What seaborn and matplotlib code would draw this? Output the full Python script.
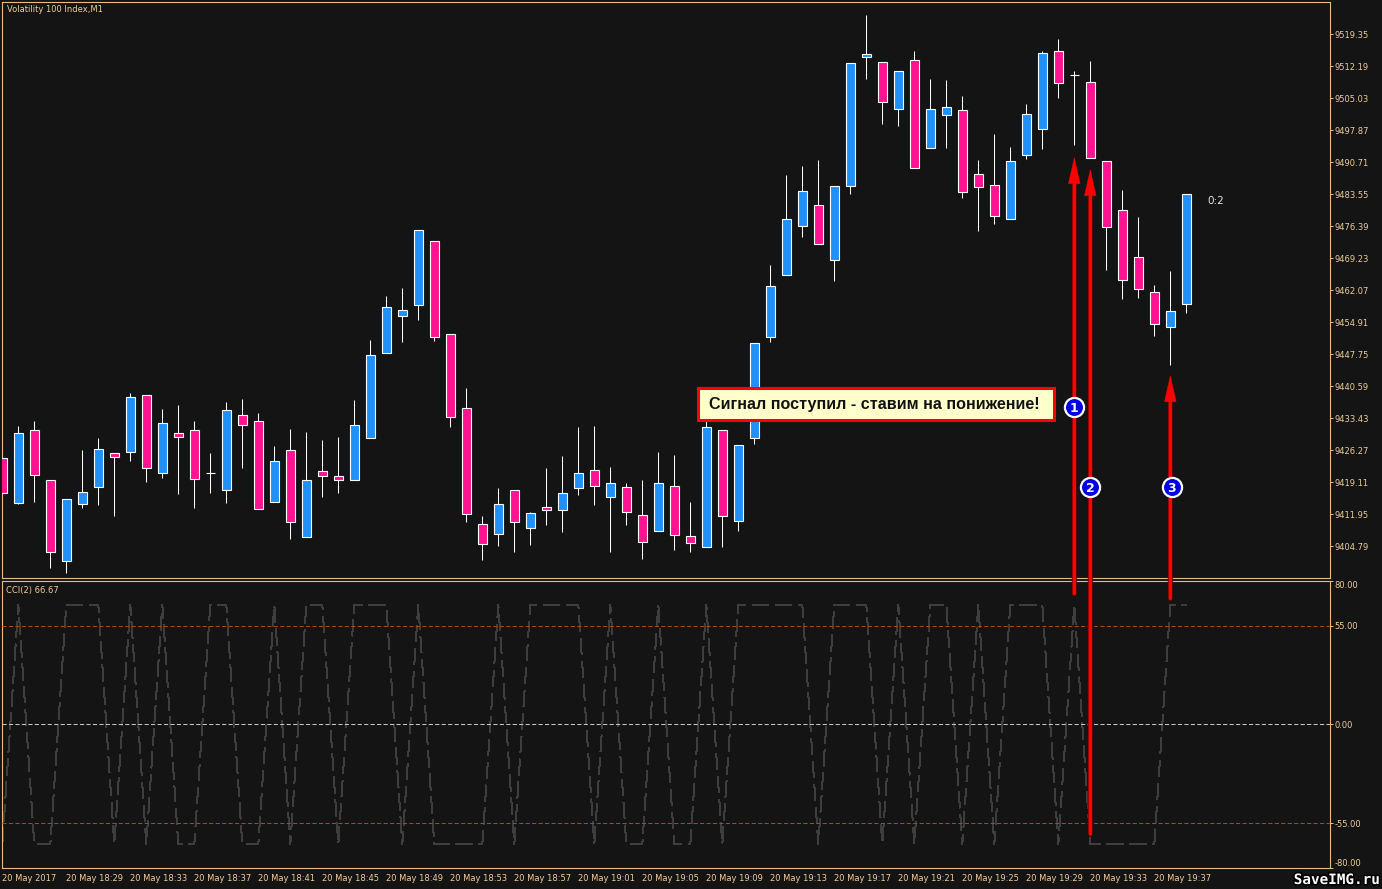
import matplotlib
matplotlib.use("Agg")
import matplotlib.pyplot as plt
import matplotlib.patheffects as pe
from matplotlib.patches import Rectangle
import numpy as np
import pandas as pd
import seaborn as sns

# ---------- data ----------
opens = [9424.42, 9414.48, 9430.68, 9419.49, 9401.50, 9414.26, 9418.06, 9425.53, 9425.89, 9438.51,
         9421.19, 9430.01, 9430.68, 9421.06, 9417.39, 9434.04, 9432.69, 9414.70, 9426.20, 9406.87,
         9421.51, 9420.39, 9419.63, 9429.03, 9448.04, 9456.32, 9458.78, 9472.97, 9452.16, 9435.60,
         9409.65, 9407.54, 9417.26, 9408.89, 9413.45, 9412.91, 9417.84, 9421.73, 9415.82, 9417.93,
         9411.66, 9408.22, 9418.15, 9406.97, 9404.64, 9430.68, 9410.45, 9429.03, 9451.62, 9465.50,
         9476.46, 9481.02, 9468.85, 9485.41, 9514.27, 9513.02, 9502.64, 9513.47, 9493.91, 9501.30,
         9502.28, 9487.96, 9485.50, 9478.03, 9492.35, 9498.16, 9515.48, 9510.18, 9508.55, 9490.87,
         9479.91, 9469.39, 9461.56, 9453.86, 9459.01]
closes = [9416.72, 9430.01, 9420.75, 9403.52, 9415.24, 9416.81, 9426.43, 9424.77, 9438.06, 9422.31,
          9432.25, 9429.25, 9419.85, 9421.06, 9435.15, 9431.93, 9413.14, 9423.74, 9410.23, 9419.49,
          9420.52, 9419.63, 9431.80, 9447.46, 9458.20, 9457.53, 9475.43, 9451.62, 9433.72, 9412.02,
          9405.31, 9414.12, 9410.23, 9412.11, 9412.91, 9416.58, 9421.06, 9418.28, 9418.82, 9412.47,
          9405.75, 9418.82, 9407.32, 9405.53, 9431.35, 9411.57, 9427.32, 9450.15, 9462.90, 9477.89,
          9484.16, 9472.43, 9485.28, 9512.80, 9514.81, 9504.20, 9511.01, 9489.44, 9502.50, 9502.95,
          9484.07, 9485.19, 9478.70, 9490.87, 9501.39, 9515.03, 9508.46, 9510.18, 9491.67, 9476.24,
          9464.38, 9462.36, 9454.53, 9457.31, 9483.49]
highs = [9424.42, 9431.64, 9432.76, 9419.49, 9415.24, 9426.27, 9428.96, 9425.53, 9439.03, 9438.51,
         9435.45, 9436.34, 9432.76, 9425.60, 9437.01, 9437.68, 9434.55, 9427.17, 9430.97, 9430.30,
         9428.51, 9429.18, 9437.46, 9450.88, 9460.73, 9462.52, 9475.43, 9472.97, 9452.16, 9440.14,
         9411.50, 9417.77, 9417.26, 9412.40, 9422.24, 9424.93, 9431.42, 9431.64, 9422.47, 9418.89,
         9419.56, 9425.82, 9425.15, 9414.64, 9432.76, 9430.68, 9427.32, 9450.15, 9467.67, 9487.80,
         9489.82, 9491.16, 9485.28, 9512.80, 9523.60, 9513.02, 9511.01, 9515.55, 9509.28, 9509.06,
         9505.48, 9491.16, 9496.98, 9494.07, 9503.69, 9515.55, 9518.23, 9511.07, 9513.31, 9490.87,
         9484.45, 9478.41, 9463.19, 9466.32, 9483.49]
lows = [9416.72, 9414.19, 9414.70, 9399.94, 9398.82, 9413.36, 9414.03, 9411.57, 9423.88, 9419.18,
        9420.07, 9416.49, 9413.36, 9416.72, 9414.48, 9422.31, 9413.14, 9414.70, 9406.43, 9406.87,
        9415.82, 9416.72, 9419.63, 9429.03, 9448.04, 9450.50, 9455.43, 9450.73, 9431.49, 9410.23,
        9401.73, 9404.86, 9403.52, 9405.08, 9409.56, 9407.99, 9416.27, 9414.03, 9403.52, 9409.56,
        9401.95, 9408.22, 9403.97, 9403.52, 9404.64, 9404.64, 9408.22, 9427.68, 9450.50, 9465.50,
        9474.00, 9472.43, 9464.15, 9483.62, 9509.35, 9499.28, 9498.83, 9489.44, 9493.91, 9493.91,
        9482.72, 9475.34, 9476.91, 9478.03, 9491.45, 9493.69, 9505.10, 9494.58, 9491.67, 9466.62,
        9460.13, 9460.35, 9451.85, 9445.36, 9456.99]
cci = [-66.67, 66.67, -66.67, -66.67, 66.67, 66.67, 66.67, -66.67, 66.67, -66.67,
       66.67, -66.67, -66.67, 66.67, 66.67, -66.67, -66.67, 66.67, -66.67, 66.67,
       66.67, -66.67, 66.67, 66.67, 66.67, -66.67, 66.67, -66.67, -66.67, -66.67,
       -66.67, 66.67, -66.67, 66.67, 66.67, 66.67, 66.67, -66.67, 66.67, -66.67,
       -66.67, 66.67, -66.67, -66.67, 66.67, -66.67, 66.67, 66.67, 66.67, 66.67,
       66.67, -66.67, 66.67, 66.67, 66.67, -66.67, 66.67, -66.67, 66.67, 66.67,
       -66.67, 66.67, -66.67, 66.67, 66.67, 66.67, -66.67, 66.67, -66.67, -66.67,
       -66.67, -66.67, -66.67, 66.67, 66.67]
price_ticks = [9519.35, 9512.19, 9505.03, 9497.87, 9490.71, 9483.55, 9476.39, 9469.23, 9462.07,
               9454.91, 9447.75, 9440.59, 9433.43, 9426.27, 9419.11, 9411.95, 9404.79]
cci_ticks = [80, 55, 0, -55, -80]
time_labels = ["20 May 2017", "20 May 18:29", "20 May 18:33", "20 May 18:37", "20 May 18:41",
               "20 May 18:45", "20 May 18:49", "20 May 18:53", "20 May 18:57", "20 May 19:01",
               "20 May 19:05", "20 May 19:09", "20 May 19:13", "20 May 19:17", "20 May 19:21",
               "20 May 19:25", "20 May 19:29", "20 May 19:33", "20 May 19:37"]
signal_bars = [67, 68, 73]
signal_tips = [9491.83, 9489.15, 9443.05]
signal_tails = [72.8, -61.1, 70.0]
badge_bars = [67.0, 68.0, 73.1]
badge_prices = [9435.96, 9418.06, 9418.06]
badge_labels = ["1", "2", "3"]

# ---------- style ----------
BG = "#141414"
TAN = "#E6BC86"
LABEL = "#F0CC98"
BLUE = "#1E90FF"
PINK = "#FF1493"
sns.set_theme(style="dark", rc={
    "figure.facecolor": BG, "axes.facecolor": BG, "axes.edgecolor": TAN,
    "axes.linewidth": 0.8, "xtick.color": TAN, "ytick.color": TAN,
    "text.color": LABEL, "axes.grid": False})
plt.rcParams["font.family"] = ["DejaVu Sans"]

W, H = 1382, 889
fig = plt.figure(figsize=(W / 100, H / 100), dpi=100, facecolor=BG)
L, R = 2.3, 1329.7
def axes_px(top, bottom):
    return [L / W, 1 - bottom / H, (R - L) / W, (bottom - top) / H]
ax = fig.add_axes(axes_px(2.0, 578.3), zorder=3)
low = fig.add_axes(axes_px(580.7, 868.0), zorder=1)

df = pd.DataFrame({"bar": np.arange(len(opens)), "open": opens, "close": closes,
                   "high": highs, "low": lows, "cci": cci})
df["body"] = (df["close"] - df["open"]).abs()
df["base"] = df[["open", "close"]].min(axis=1)

# ---------- candles ----------
wicks = ax.vlines(df["bar"], df["low"], df["high"], color="white", lw=0.75, zorder=1)
wicks.set_snap(True)
for mask, colour in [(df["close"] >= df["open"], BLUE), (df["close"] < df["open"], PINK)]:
    part = df[mask]
    sns.barplot(data=part, x="bar", y="body", bottom=part["base"].to_numpy(), native_scale=True,
                color=colour, saturation=1, width=0.6, edgecolor="white", linewidth=0.8,
                errorbar=None, ax=ax, zorder=3)

ax.set_xlim(0, (R - L) / 16)
ax.set_ylim(9397.57, 9526.51)
ax.set_xlabel(""); ax.set_ylabel("")
ax.set_xticks([])
ax.yaxis.tick_right()
ax.set_yticks(price_ticks, [f"{v:.2f}" for v in price_ticks])
ax.tick_params(axis="y", length=2.2, width=0.7, pad=1.5, labelsize=6, color=TAN, labelcolor=LABEL)
ax.text(0.0035, 0.9865, "Volatility 100 Index,M1", transform=ax.transAxes, fontsize=6,
        va="center", ha="left", color=LABEL)
ax.text(75.3, 9482.0, "0:2", fontsize=7.5, color="#DDE6EE", va="center", ha="left")

# ---------- CCI panel ----------
for level, colour in [(55, "#A04C12"), (-55, "#A04C12"), (0, "#C4C4C4")]:
    line = low.axhline(level, color=colour, lw=0.75, ls=(0, (4, 2.2)), zorder=3)
    line.set_snap(True)
sns.lineplot(data=df, x="bar", y="cci", estimator=None, ax=low, color="#3E3E3E",
             lw=0.5, ls=(0, (24, 9)), antialiased=False, zorder=2)
low.set_xlim(0, (R - L) / 16)
low.set_ylim(-80, 80)
low.set_xlabel(""); low.set_ylabel("")
low.yaxis.tick_right()
low.set_yticks(cci_ticks, [f"{v:.2f}" for v in cci_ticks])
low.tick_params(axis="y", length=2.2, width=0.7, pad=1.5, labelsize=6, color=TAN, labelcolor=LABEL)
for lab, v in zip(low.get_yticklabels(), cci_ticks):
    if v == 80:
        lab.set_va("top")
    elif v == -80:
        lab.set_va("bottom")
low.set_xticks(np.arange(len(time_labels)) * 4, time_labels, ha="left")
low.tick_params(axis="x", length=3.2, width=0.7, pad=1.0, labelsize=6, color=TAN, labelcolor=LABEL)
low.text(0.003, 0.965, "CCI(2) 66.67", transform=low.transAxes, fontsize=6, va="center",
         ha="left", color=LABEL)

# ---------- annotations ----------
HEAD_SPAN = 4.5
for bar, tip, tail in zip(signal_bars, signal_tips, signal_tails):
    ax.annotate("", xy=(bar, tip - HEAD_SPAN), xycoords=ax.transData,
                xytext=(bar, tail), textcoords=low.transData, annotation_clip=False,
                arrowprops=dict(arrowstyle="-", shrinkA=0, shrinkB=0, color="#FF0000", lw=2.2,
                                path_effects=[pe.withStroke(linewidth=3.6, foreground="#5A0000"),
                                              pe.Normal()]),
                zorder=6)
    ax.annotate("", xy=(bar, tip), xycoords=ax.transData,
                xytext=(bar, tail), textcoords=low.transData, annotation_clip=False,
                arrowprops=dict(arrowstyle="-|>,head_length=18.5,head_width=4.2", mutation_scale=1,
                                shrinkA=0, shrinkB=0, color="#FF0000", lw=0.3),
                zorder=6)

ax.add_patch(Rectangle((43.47, 9432.94), 22.27, 7.30, facecolor="#FFFFCC", edgecolor="#FF0000",
                       lw=2.2, zorder=7, clip_on=False,
                       path_effects=[pe.withSimplePatchShadow(offset=(1.5, -1.5), alpha=0.5,
                                                              shadow_rgbFace="#000000"), pe.Normal()]))
ax.text(54.51, 9436.41, "Сигнал поступил - ставим на понижение!", family="Liberation Sans",
        fontweight="bold", fontsize=11.6, color="#111111", ha="center", va="center", zorder=8)

sns.scatterplot(x=badge_bars, y=badge_prices, ax=ax, s=190, color="#0000E6", edgecolor="white",
                linewidth=1.6, zorder=8, clip_on=False, legend=False)
for bx, by, t in zip(badge_bars, badge_prices, badge_labels):
    ax.text(bx, by, t, color="white", fontsize=9, fontweight="bold", ha="center",
            va="center_baseline", zorder=9)

fig.text(1380 / W, 1 - 880 / H, "SaveIMG.ru", family="DejaVu Sans Mono", fontweight="bold",
         fontsize=10.3, color="white", ha="right", va="center",
         path_effects=[pe.withStroke(linewidth=2.4, foreground="black")])

for a in (ax, low):
    for s in a.spines.values():
        s.set_color(TAN); s.set_linewidth(0.8)

fig.savefig("out.png", dpi=100, facecolor=BG)
